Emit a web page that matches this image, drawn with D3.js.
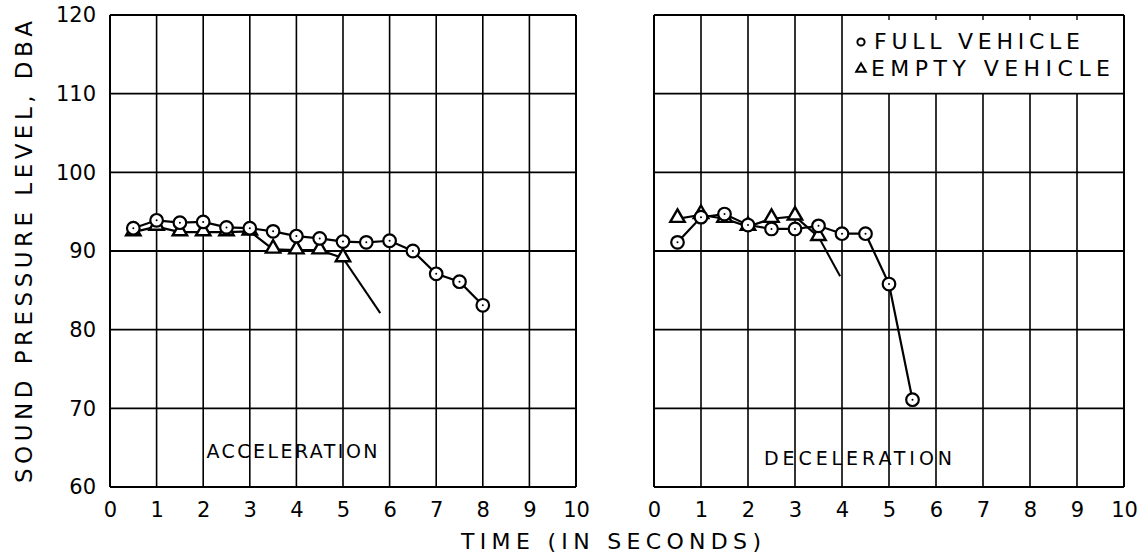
<!DOCTYPE html>
<html>
<head>
<meta charset="utf-8">
<script src="https://cdn.jsdelivr.net/npm/d3@7"></script>
<style>
  html, body { margin: 0; padding: 0; background: #fff; }
  svg { display: block; }
  text { font-family: "DejaVu Sans", sans-serif; fill: #000; }
</style>
</head>
<body>
<svg id="chart" width="1142" height="559"></svg>
<script>
// ---- Data ----
const xTicks = [0, 1, 2, 3, 4, 5, 6, 7, 8, 9, 10];
const yTicks = [60, 70, 80, 90, 100, 110, 120];

// Acceleration panel
const accFullT   = [0.5, 1, 1.5, 2, 2.5, 3, 3.5, 4, 4.5, 5, 5.5, 6, 6.5, 7, 7.5, 8];
const accFullDb  = [92.9, 93.9, 93.6, 93.7, 93.0, 92.9, 92.5, 91.9, 91.6, 91.2, 91.1, 91.3, 90.0, 87.1, 86.1, 83.1];
const accEmptyT  = [0.5, 1, 1.5, 2, 2.5, 3, 3.5, 4, 4.5, 5];
const accEmptyDb = [92.4, 93.1, 92.4, 92.4, 92.4, 92.5, 90.2, 90.1, 90.1, 89.1];
const accEmptyTailT  = [5, 5.8];
const accEmptyTailDb = [89.1, 82.1];

// Deceleration panel
const decFullT   = [0.5, 1, 1.5, 2, 2.5, 3, 3.5, 4, 4.5, 5, 5.5];
const decFullDb  = [91.1, 94.3, 94.7, 93.3, 92.8, 92.8, 93.2, 92.2, 92.2, 85.8, 71.1];
const decEmptyT  = [0.5, 1, 1.5, 2, 2.5, 3, 3.5];
const decEmptyDb = [94.1, 94.6, 94.1, 93.1, 94.1, 94.4, 91.8];
const decEmptyTailT  = [3.5, 3.96];
const decEmptyTailDb = [91.8, 86.8];

const yTitle = "SOUND PRESSURE LEVEL, DBA";
const xTitle = "TIME (IN SECONDS)";
const panelNames = ["ACCELERATION", "DECELERATION"];
const legendLabels = ["FULL VEHICLE", "EMPTY VEHICLE"];

// ---- Layout ----
const svg = d3.select("#chart");
const plotTop = 15, plotBottom = 487;
const y = d3.scaleLinear().domain([60, 120]).range([plotBottom, plotTop]);
const xL = d3.scaleLinear().domain([0, 10]).range([110, 576]);
const xR = d3.scaleLinear().domain([0, 10]).range([654, 1124]);

const zip = (a, b) => a.map((v, i) => [v, b[i]]);

function drawPanel(x, opts) {
  const g = svg.append("g");
  // horizontal grid lines
  g.selectAll("line.h").data(yTicks).enter().append("line")
    .attr("x1", x(0)).attr("x2", x(10))
    .attr("y1", d => y(d)).attr("y2", d => y(d))
    .attr("stroke", "#000")
    .attr("stroke-width", d => (d === 60 || d === 120) ? 2 : 1.8);
  // vertical grid lines
  g.selectAll("line.v").data(xTicks).enter().append("line")
    .attr("x1", d => x(d)).attr("x2", d => x(d))
    .attr("y1", d => (opts.legend && d > 4 && d < 10) ? y(110) : y(120))
    .attr("y2", y(60))
    .attr("stroke", "#000")
    .attr("stroke-width", d => (d === 0 || d === 10) ? 2 : 1.6);
  // small top ticks inside the legend box
  if (opts.legend) {
    g.selectAll("line.tt").data(xTicks.filter(d => d > 4 && d < 10)).enter().append("line")
      .attr("x1", d => x(d)).attr("x2", d => x(d))
      .attr("y1", y(120)).attr("y2", y(120) + 5)
      .attr("stroke", "#000").attr("stroke-width", 1.4);
  }
  // x tick labels
  const ax = d3.axisBottom(x).tickValues(xTicks).tickSize(0).tickPadding(0).tickFormat(d3.format("d"));
  const axg = g.append("g").attr("transform", `translate(0,${plotBottom + 14})`).call(ax);
  axg.select(".domain").remove();
  axg.selectAll("text").attr("font-size", 21).attr("dy", "0.75em")
    .style("font-family", "'DejaVu Sans', sans-serif");

  // panel name
  g.append("text").attr("x", opts.nameX).attr("y", opts.nameY)
    .attr("text-anchor", "middle").attr("dominant-baseline", "central")
    .attr("font-size", 19).attr("textLength", opts.nameW).attr("lengthAdjust", "spacing")
    .text(opts.name);

  const line = d3.line().x(d => x(d[0])).y(d => y(d[1]));
  // tails
  g.append("path").datum(opts.tail).attr("d", line)
    .attr("fill", "none").attr("stroke", "#000").attr("stroke-width", 2);
  // empty series line
  g.append("path").datum(opts.empty).attr("d", line)
    .attr("fill", "none").attr("stroke", "#000").attr("stroke-width", 2.2);
  // full series line
  g.append("path").datum(opts.full).attr("d", line)
    .attr("fill", "none").attr("stroke", "#000").attr("stroke-width", 2.2);

  const tri = d3.symbol().type(d3.symbolTriangle).size(90);
  g.selectAll("path.tri").data(opts.empty).enter().append("path")
    .attr("d", tri)
    .attr("transform", d => `translate(${x(d[0])},${y(d[1]) - 1})`)
    .attr("fill", "#fff").attr("stroke", "#000").attr("stroke-width", 2.4);
  g.selectAll("circle.c").data(opts.full).enter().append("circle")
    .attr("cx", d => x(d[0])).attr("cy", d => y(d[1])).attr("r", 6.3)
    .attr("fill", "#fff").attr("stroke", "#000").attr("stroke-width", 2.2);
  g.selectAll("circle.dot").data(opts.full).enter().append("circle")
    .attr("cx", d => x(d[0])).attr("cy", d => y(d[1])).attr("r", 1)
    .attr("fill", "#000");
}

drawPanel(xL, {
  full: zip(accFullT, accFullDb),
  empty: zip(accEmptyT, accEmptyDb),
  tail: zip(accEmptyTailT, accEmptyTailDb),
  name: panelNames[0], nameX: 292, nameY: 451, nameW: 171, legend: false
});
drawPanel(xR, {
  full: zip(decFullT, decFullDb),
  empty: zip(decEmptyT, decEmptyDb),
  tail: zip(decEmptyTailT, decEmptyTailDb),
  name: panelNames[1], nameX: 858, nameY: 458, nameW: 188, legend: true
});

// y tick labels (left panel only)
const ay = d3.axisLeft(y).tickValues(yTicks).tickSize(0).tickPadding(0).tickFormat(d3.format("d"));
const ayg = svg.append("g").attr("transform", "translate(96,0)").call(ay);
ayg.select(".domain").remove();
ayg.selectAll("text").attr("font-size", 21)
  .style("font-family", "'DejaVu Sans', sans-serif");

// y title
svg.append("text")
  .attr("transform", "translate(24,252) rotate(-90)")
  .attr("text-anchor", "middle").attr("dominant-baseline", "central")
  .attr("font-size", 23).attr("textLength", 462).attr("lengthAdjust", "spacing")
  .text(yTitle);

// x title
svg.append("text").attr("x", 611).attr("y", 541)
  .attr("text-anchor", "middle").attr("dominant-baseline", "central")
  .attr("font-size", 22).attr("textLength", 300).attr("lengthAdjust", "spacing")
  .text(xTitle);

// legend
const lg = svg.append("g");
lg.append("circle").attr("cx", 861).attr("cy", 42).attr("r", 3.6)
  .attr("fill", "#fff").attr("stroke", "#000").attr("stroke-width", 2);
lg.append("path").attr("d", d3.symbol().type(d3.symbolTriangle).size(40))
  .attr("transform", "translate(861,69)")
  .attr("fill", "#fff").attr("stroke", "#000").attr("stroke-width", 2);
lg.append("text").attr("x", 874).attr("y", 41).attr("dominant-baseline", "central")
  .attr("font-size", 22).attr("textLength", 206).attr("lengthAdjust", "spacing")
  .text(legendLabels[0]);
lg.append("text").attr("x", 871).attr("y", 68).attr("dominant-baseline", "central")
  .attr("font-size", 22).attr("textLength", 239).attr("lengthAdjust", "spacing")
  .text(legendLabels[1]);
</script>
</body>
</html>
